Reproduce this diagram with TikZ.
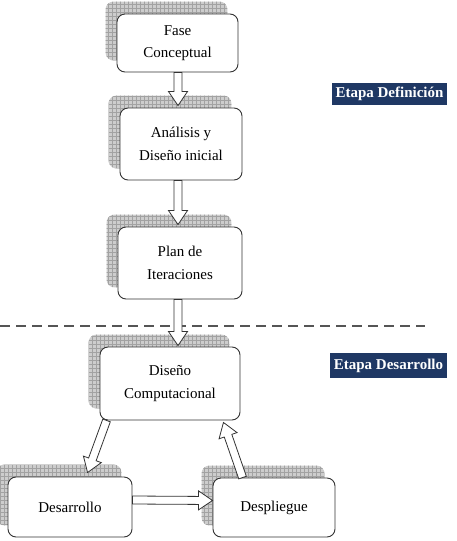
\documentclass[tikz,border=0pt]{standalone}
\usepackage{fontspec}
\setmainfont{Liberation Serif}
\usetikzlibrary{calc,backgrounds}
\definecolor{navy}{HTML}{1F3864}
\definecolor{boxline}{HTML}{333333}
\definecolor{shadowfill}{HTML}{CDCDCD}
\definecolor{gridline}{HTML}{A2A2A2}
\definecolor{dashcol}{HTML}{555555}
\tikzset{
  stagebox/.style={draw=boxline, line width=0.9pt, fill=white, rounded corners=8pt,
    align=center, inner sep=0pt, font=\fontsize{15}{22.5}\selectfont},
  tag/.style={fill=navy, text=white, inner sep=0pt, minimum height=22pt,
    font=\bfseries\fontsize{15}{16}\selectfont},
  blockarrow/.style={draw=boxline, line width=0.8pt, fill=white, line join=miter,
    to path={
      let \p1=(\tikztostart), \p2=(\tikztotarget),
          \n1={atan2(\y2-\y1,\x2-\x1)}, \n2={veclen(\x2-\x1,\y2-\y1)} in
      [shift={(\p1)}, rotate=\n1]
      (0pt,-4pt) -- ({\n2-14pt},-4pt) -- ({\n2-14pt},-9.5pt) -- ({\n2*1pt},0pt)
      -- ({\n2-14pt},9.5pt) -- ({\n2-14pt},4pt) -- (0pt,4pt) -- cycle}},
  sepline/.style={draw=dashcol, line width=1.2pt, dash pattern=on 10pt off 6pt},
}
\begin{document}
\begin{tikzpicture}[x=1pt, y=-1pt]
\path[use as bounding box] (0,0) rectangle (456,541);
% boxes
\node[stagebox, minimum width=121pt, minimum height=58pt] (a) at (177.5,43) {Fase\\Conceptual};
\node[stagebox, minimum width=122pt, minimum height=72pt] (b) at (181,144) {Análisis y\\Diseño inicial};
\node[stagebox, minimum width=124pt, minimum height=72pt] (c) at (180,263) {Plan de\\Iteraciones};
\node[stagebox, minimum width=140pt, minimum height=73pt] (d) at (170,383.5) {Diseño\\Computacional};
\node[stagebox, minimum width=124pt, minimum height=60pt] (e) at (70,507) {Desarrollo};
\node[stagebox, minimum width=122pt, minimum height=59pt] (f) at (274,507.5) {Despliegue};
% tags
\node[tag, minimum width=115pt] (t1) at (389.5,94) {Etapa Definición};
\node[tag, minimum width=117pt, minimum height=25pt] (t2) at (388.5,365.5) {Etapa Desarrollo};
% shadows
\begin{scope}[on background layer]
\fill[white] (0,0) rectangle (456,541);
\foreach \n in {a,b,c,d,e,f}{
  \begin{scope}
    \path[clip, rounded corners=8pt] ([xshift=-11pt,yshift=12pt]\n.south west) rectangle ([xshift=-11pt,yshift=12pt]\n.north east);
    \fill[shadowfill] (-20,-20) rectangle (470,560);
    \draw[gridline, line width=0.35pt, step=4pt] (-20,-20) grid (470,560);
  \end{scope}
}
\end{scope}
% separator
\coordinate (s1) at (0,326);
\coordinate (s2) at (425,326);
\draw[sepline] (s1) -- (s2);
% arrow end points
\coordinate (a1) at ([xshift=0.5pt]a.south);
\coordinate (b0) at ([xshift=-3pt,yshift=2pt]b.north);
\coordinate (b1) at ([xshift=-3pt]b.south);
\coordinate (c0) at ([xshift=-2pt,yshift=2pt]c.north);
\coordinate (c1) at ([xshift=-2pt]c.south);
\coordinate (d0) at ([xshift=8pt,yshift=1pt]d.north);
\coordinate (d1) at ([xshift=7pt]d.south west);
\coordinate (e0) at ([xshift=80pt,yshift=4pt]e.north west);
\coordinate (e1) at ([yshift=7pt]e.east);
\coordinate (f0) at ([yshift=7pt]f.west);
\coordinate (f1) at ([xshift=30pt]f.north west);
\coordinate (d2) at ([xshift=-17pt,yshift=-2pt]d.south east);
% arrows
\path[blockarrow] (a1) to (b0);
\path[blockarrow] (b1) to (c0);
\path[blockarrow] (c1) to (d0);
\path[blockarrow] (d1) to (e0);
\path[blockarrow] (e1) to (f0);
\path[blockarrow] (f1) to (d2);
\end{tikzpicture}
\end{document}
